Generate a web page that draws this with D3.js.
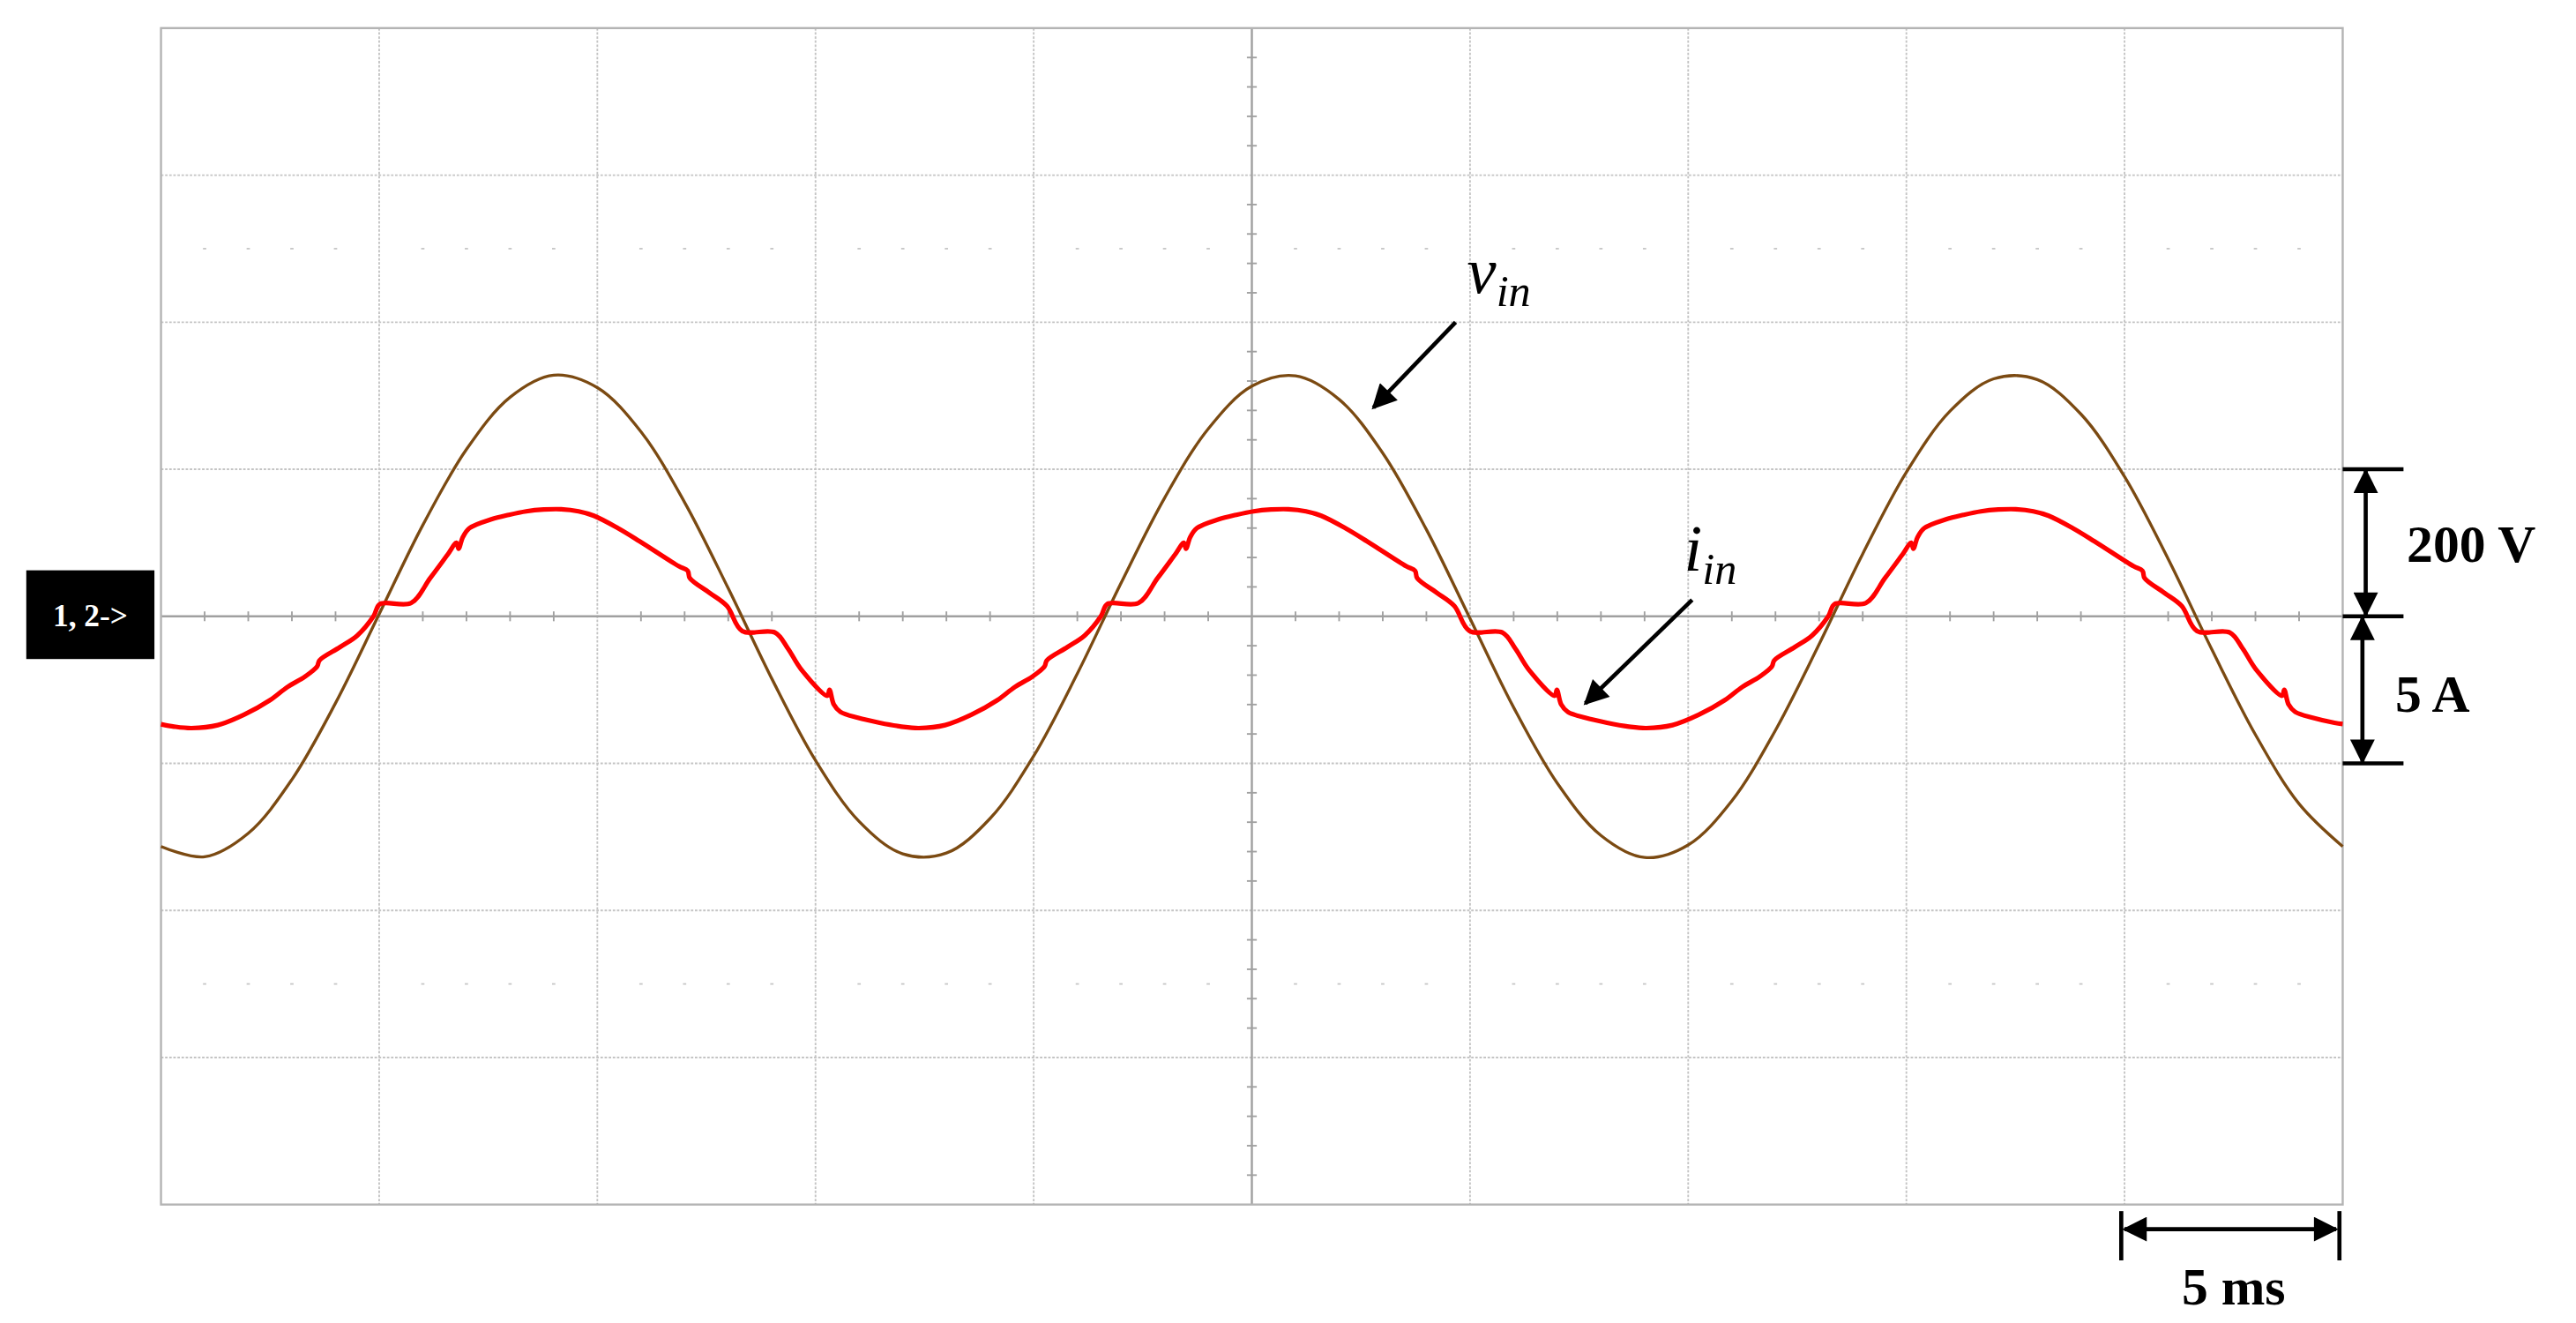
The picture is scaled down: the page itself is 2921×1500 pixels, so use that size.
<!DOCTYPE html>
<html>
<head>
<meta charset="utf-8">
<script src="https://cdn.jsdelivr.net/npm/d3@7"></script>
<style>
  html, body { margin: 0; padding: 0; background: #fff; }
  svg { display: block; }
</style>
</head>
<body>
<svg id="chart"></svg>
<script>
// time axis (ms) and divisions
const timeTicks = [0, 5, 10, 15, 20, 25, 30, 35, 40, 45, 50];
const divTicks = [-4, -3, -2, -1, 0, 1, 2, 3, 4];

// input voltage, sampled every 1 ms (V)
const vinTime = d3.range(0, 51);
const vinValues = [
  -313, -327, -295, -222, -118, 3, 124, 227, 298, 328,
  311, 251, 155, 38, -85, -196, -279, -323, -322, -275,
  -190, -78, 45, 161, 255, 313, 327, 295, 222, 118,
  -3, -124, -227, -298, -328, -311, -251, -155, -38, 85,
  196, 279, 323, 322, 275, 190, 78, -45, -161, -255, -313
];

// input current (A)
const iinTime = [
  0, 0.30, 0.70, 1.30, 1.90, 2.50, 2.90, 3.30, 3.58, 3.63, 4.10, 4.50, 4.87,
  5.02, 5.73, 6.17, 6.57, 6.77, 6.82, 6.92, 7.07, 7.57, 7.97,
  8.37, 8.77, 9.17, 9.57, 9.92, 10.47, 10.97, 11.87, 12.07, 12.12,
  12.57, 12.97, 13.32, 14.07, 14.37, 14.67, 15.27, 15.32, 15.42, 15.57,
  15.97, 16.47, 16.97, 17.37, 17.97, 18.57, 19.17, 19.57, 19.97, 20.25,
  20.30, 20.77, 21.17, 21.54,
  21.69, 22.40, 22.84, 23.24, 23.44, 23.49, 23.59, 23.74, 24.24, 24.64,
  25.04, 25.44, 25.84, 26.24, 26.59, 27.14, 27.64, 28.54, 28.74, 28.79,
  29.24, 29.64, 29.99, 30.74, 31.04, 31.34, 31.94, 31.99, 32.09, 32.24,
  32.64, 33.14, 33.64, 34.04, 34.64, 35.24, 35.84, 36.24, 36.64, 36.92,
  36.97, 37.44, 37.84, 38.21,
  38.36, 39.07, 39.51, 39.91, 40.11, 40.16, 40.26, 40.41, 40.91, 41.31,
  41.71, 42.11, 42.51, 42.91, 43.26, 43.81, 44.31, 45.21, 45.41, 45.46,
  45.91, 46.31, 46.66, 47.41, 47.71, 48.01, 48.61, 48.66, 48.76, 48.91,
  49.31, 49.81, 50
];
const iinValues = [
  -3.67, -3.75, -3.8, -3.7, -3.35, -2.85, -2.4, -2.05, -1.7, -1.5, -1.05, -0.65, 0.0,
  0.42, 0.45, 1.3, 2.1, 2.5, 2.3, 2.7, 3.0, 3.3, 3.45,
  3.57, 3.63, 3.64, 3.57, 3.42, 3.0, 2.55, 1.7, 1.55, 1.3,
  0.8, 0.35, -0.5, -0.55, -1.1, -1.8, -2.7, -2.5, -3.0, -3.25,
  -3.45, -3.62, -3.75, -3.8, -3.7, -3.35, -2.85, -2.4, -2.05, -1.7,
  -1.5, -1.05, -0.65, 0.0,
  0.42, 0.45, 1.3, 2.1, 2.5, 2.3, 2.7, 3.0, 3.3, 3.45,
  3.57, 3.63, 3.64, 3.57, 3.42, 3.0, 2.55, 1.7, 1.55, 1.3,
  0.8, 0.35, -0.5, -0.55, -1.1, -1.8, -2.7, -2.5, -3.0, -3.25,
  -3.45, -3.62, -3.75, -3.8, -3.7, -3.35, -2.85, -2.4, -2.05, -1.7,
  -1.5, -1.05, -0.65, 0.0,
  0.42, 0.45, 1.3, 2.1, 2.5, 2.3, 2.7, 3.0, 3.3, 3.45,
  3.57, 3.63, 3.64, 3.57, 3.42, 3.0, 2.55, 1.7, 1.55, 1.3,
  0.8, 0.35, -0.5, -0.55, -1.1, -1.8, -2.7, -2.5, -3.0, -3.25,
  -3.45, -3.62, -3.66
];

const voltsPerDiv = 200;
const ampsPerDiv = 5;

const W = 1568, H = 805;
const plot = { left: 98, right: 1426, top: 17, bottom: 733 };

const svg = d3.select('#chart')
  .attr('width', 2921)
  .attr('height', 1500)
  .attr('viewBox', `0 0 ${W} ${H}`);

const xScale = d3.scaleLinear().domain([0, 50]).range([plot.left, plot.right]);
const yDiv = d3.scaleLinear().domain([-4, 4]).range([plot.bottom, plot.top]);
const yV = d3.scaleLinear().domain([-4 * voltsPerDiv, 4 * voltsPerDiv]).range([plot.bottom, plot.top]);
const yI = d3.scaleLinear().domain([-4 * ampsPerDiv, 4 * ampsPerDiv]).range([plot.bottom, plot.top]);

const grid = svg.append('g');

// dotted grid lines
grid.selectAll('line.vg')
  .data(timeTicks.slice(1, -1).filter(d => d !== 25))
  .join('line')
  .attr('x1', d => xScale(d)).attr('x2', d => xScale(d))
  .attr('y1', plot.top).attr('y2', plot.bottom)
  .attr('stroke', '#c4c4c4').attr('stroke-width', 1)
  .attr('stroke-dasharray', '1.5,1');
grid.selectAll('line.hg')
  .data(divTicks.slice(1, -1).filter(d => d !== 0))
  .join('line')
  .attr('x1', plot.left).attr('x2', plot.right)
  .attr('y1', d => yDiv(d)).attr('y2', d => yDiv(d))
  .attr('stroke', '#c4c4c4').attr('stroke-width', 1)
  .attr('stroke-dasharray', '1.5,1');

// center axes with minor ticks
const axisColor = '#a0a0a0';
grid.append('line')
  .attr('x1', plot.left).attr('x2', plot.right)
  .attr('y1', yDiv(0)).attr('y2', yDiv(0))
  .attr('stroke', axisColor).attr('stroke-width', 1.3);
grid.append('line')
  .attr('x1', xScale(25)).attr('x2', xScale(25))
  .attr('y1', plot.top).attr('y2', plot.bottom)
  .attr('stroke', axisColor).attr('stroke-width', 1.3);

const minorX = d3.range(0, 50.01, 1).filter(d => d % 5 !== 0);
const minorY = d3.range(-4, 4.01, 0.2).filter(d => Math.abs(d - Math.round(d)) > 0.01);
grid.selectAll('line.mx')
  .data(minorX)
  .join('line')
  .attr('x1', d => xScale(d)).attr('x2', d => xScale(d))
  .attr('y1', yDiv(0) - 3).attr('y2', yDiv(0) + 3)
  .attr('stroke', axisColor);
grid.selectAll('line.my')
  .data(minorY)
  .join('line')
  .attr('x1', xScale(25) - 3).attr('x2', xScale(25) + 3)
  .attr('y1', d => yDiv(d)).attr('y2', d => yDiv(d))
  .attr('stroke', axisColor);
// faint markers at +-2.5 div
grid.selectAll('line.mk')
  .data(d3.cross(minorX, [-2.5, 2.5]))
  .join('line')
  .attr('x1', d => xScale(d[0]) - 1).attr('x2', d => xScale(d[0]) + 1)
  .attr('y1', d => yDiv(d[1])).attr('y2', d => yDiv(d[1]))
  .attr('stroke', '#c8c8c8');

// frame
grid.append('rect')
  .attr('x', plot.left).attr('y', plot.top)
  .attr('width', plot.right - plot.left).attr('height', plot.bottom - plot.top)
  .attr('fill', 'none').attr('stroke', '#b4b4b4').attr('stroke-width', 1.3);

// traces
const vinLine = d3.line()
  .x((d, i) => xScale(vinTime[i]))
  .y(d => yV(d))
  .curve(d3.curveCatmullRom.alpha(0.5));
svg.append('path')
  .attr('d', vinLine(vinValues))
  .attr('fill', 'none')
  .attr('stroke', '#7b4a12')
  .attr('stroke-width', 1.8);

const iinLine = d3.line()
  .x((d, i) => xScale(iinTime[i]))
  .y(d => yI(d))
  .curve(d3.curveCatmullRom.alpha(0.5));
svg.append('path')
  .attr('d', iinLine(iinValues))
  .attr('fill', 'none')
  .attr('stroke', '#ff0000')
  .attr('stroke-width', 2.8);

// annotations
const defs = svg.append('defs');
defs.append('marker')
  .attr('id', 'arr')
  .attr('viewBox', '0 0 10 10')
  .attr('refX', 9).attr('refY', 5)
  .attr('markerWidth', 7).attr('markerHeight', 6)
  .attr('markerUnits', 'strokeWidth')
  .attr('orient', 'auto-start-reverse')
  .append('path').attr('d', 'M0,0 L10,5 L0,10 z').attr('fill', '#000');

const serif = '"Liberation Serif", "Times New Roman", serif';

// channel marker
svg.append('rect').attr('x', 16).attr('y', 347).attr('width', 78).attr('height', 54).attr('fill', '#000');
svg.append('text').attr('x', 55).attr('y', 381)
  .attr('text-anchor', 'middle').attr('fill', '#fff')
  .attr('font-family', serif).attr('font-weight', 'bold').attr('font-size', 19)
  .text('1, 2->');

function label(x, y, main) {
  const t = svg.append('text').attr('x', x).attr('y', y)
    .attr('font-family', serif).attr('font-style', 'italic').attr('font-size', 40);
  t.append('tspan').text(main);
  t.append('tspan').attr('font-size', 27).attr('dy', 8).text('in');
}
label(893, 178, 'v');
label(1025, 347, 'i');

svg.append('line').attr('x1', 886).attr('y1', 196).attr('x2', 836).attr('y2', 248)
  .attr('stroke', '#000').attr('stroke-width', 2.5).attr('marker-end', 'url(#arr)');
svg.append('line').attr('x1', 1030).attr('y1', 365).attr('x2', 965).attr('y2', 428)
  .attr('stroke', '#000').attr('stroke-width', 2.5).attr('marker-end', 'url(#arr)');

// scale bars
const bar = svg.append('g').attr('stroke', '#000').attr('stroke-width', 2.5);
[1, 0, -1].forEach(d => {
  bar.append('line').attr('x1', plot.right).attr('x2', 1463)
    .attr('y1', yDiv(d)).attr('y2', yDiv(d));
});
bar.append('line').attr('x1', 1440).attr('x2', 1440).attr('y1', yDiv(1) + 1).attr('y2', yDiv(0) - 1)
  .attr('marker-start', 'url(#arr)').attr('marker-end', 'url(#arr)');
bar.append('line').attr('x1', 1438).attr('x2', 1438).attr('y1', yDiv(0) + 1).attr('y2', yDiv(-1) - 1)
  .attr('marker-start', 'url(#arr)').attr('marker-end', 'url(#arr)');
bar.append('line').attr('x1', xScale(45) - 2).attr('x2', xScale(45) - 2).attr('y1', 737).attr('y2', 767);
bar.append('line').attr('x1', xScale(50) - 2).attr('x2', xScale(50) - 2).attr('y1', 737).attr('y2', 767);
bar.append('line').attr('x1', xScale(45)).attr('x2', xScale(50) - 4).attr('y1', 748).attr('y2', 748)
  .attr('marker-start', 'url(#arr)').attr('marker-end', 'url(#arr)');

const bold = (x, y, s, anchor) => svg.append('text').attr('x', x).attr('y', y)
  .attr('text-anchor', anchor || 'start')
  .attr('font-family', serif).attr('font-weight', 'bold').attr('font-size', 32).text(s);
bold(1465, 342, '200 V');
bold(1458, 433, '5 A');
bold(xScale(47.5), 794, '5 ms', 'middle');
</script>
</body>
</html>
